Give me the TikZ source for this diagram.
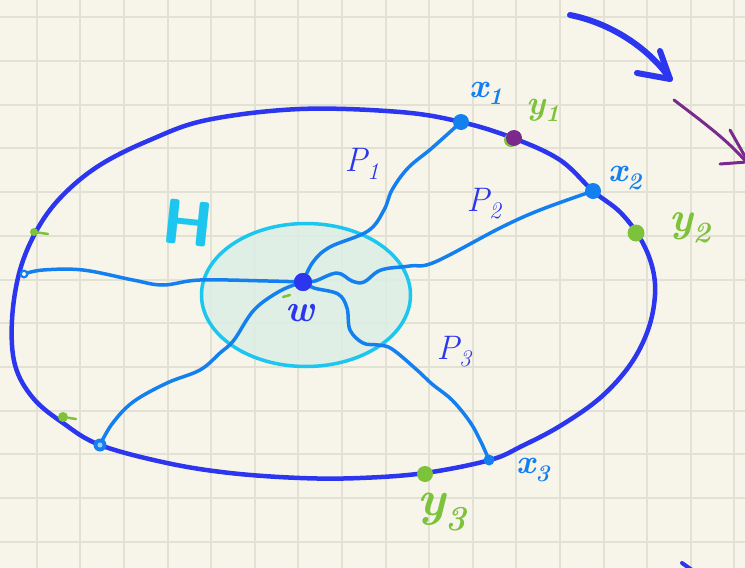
\documentclass[tikz,border=0pt]{standalone}
\usetikzlibrary{calc,shapes.geometric}
\definecolor{paper}{HTML}{F7F5EA}
\definecolor{gridc}{HTML}{E2E1D4}
\definecolor{dblue}{HTML}{2B36EE}
\definecolor{lblue}{HTML}{1480F0}
\definecolor{cyanh}{HTML}{1CC6EE}
\definecolor{hfill}{HTML}{DCEEE5}
\definecolor{greenc}{HTML}{7CC23A}
\definecolor{purp}{HTML}{7A2A8C}
\newcommand\mylab[2]{#1\textsubscript{#2}}
\tikzset{
  outer/.style={draw=dblue,line width=4.5pt,line cap=round,line join=round},
  pathline/.style={draw=lblue,line width=3.5pt,line cap=round,line join=round},
  bdot/.style={circle,fill=lblue,inner sep=0pt,minimum size=#1},
  gdot/.style={circle,fill=greenc,inner sep=0pt,minimum size=#1},
  xlab/.style={text=lblue,font=\fontsize{34}{36}\selectfont\bfseries\itshape},
  ylab/.style={text=greenc,font=\fontsize{#1}{#1}\selectfont\bfseries\itshape},
  plab/.style={text=dblue,font=\fontsize{34}{36}\selectfont\itshape},
}
\begin{document}
\begin{tikzpicture}[x=1pt,y=-1pt]
\fill[paper] (0,0) rectangle (745,568);
\useasboundingbox (0,0) rectangle (745,568);
\foreach \k in {0,...,16} \draw[gridc,line width=2pt] ({36.7+43.6*\k},0) -- ({36.7+43.6*\k},568);
\foreach \k in {0,...,12} \draw[gridc,line width=2pt] (0,{17.3+43.7*\k}) -- (745,{17.3+43.7*\k});

% H region
\node[ellipse,draw=cyanh,fill=hfill,fill opacity=0.85,draw opacity=1,line width=3.5pt,inner sep=0pt,minimum width=209pt,minimum height=143pt] (Hreg) at (306,295) {};
\node[text=cyanh,font=\sffamily\bfseries\fontsize{64}{64}\selectfont,rotate=-6] (H) at (188,223) {H};

% outer curve
\draw[outer] plot[smooth cycle,tension=0.6] coordinates {
(12,320) (20,270) (38,228) (63,195) (100,165) (150,140) (207,120) (300,109) (400,112)
(461,122) (513,138) (560,160) (593,191) (620,212) (640,238) (652,266) (655,295) (648,330)
(630,365) (600,398) (560,426) (522,446) (490,460) (425,473) (360,478) (300,478) (230,473)
(167,463) (100,445) (63,423) (33,398) (15,365)};

% nodes on boundary
\node[bdot=16pt] (x1) at (461,122) {};
\node[bdot=16pt] (x2) at (593,191) {};
\node[bdot=11pt] (x3) at (489,460) {};
\node[bdot=13pt] (v4) at (100,445) {};
\node[bdot=9pt] (v5) at (24,274) {};
\node[gdot=14pt] (y1g) at (511,140) {};
\node[circle,fill=purp,inner sep=0pt,minimum size=16pt] (y1) at (514,138) {};
\node[gdot=17pt] (y2) at (636,233) {};
\node[gdot=16pt] (y3) at (425,474) {};
\node[gdot=8pt] (g1) at (34,232) {};
\node[gdot=10pt] (g2) at (63,417) {};
\draw[greenc,line width=2.5pt,line cap=round] (g1) -- (48,234);
\draw[greenc,line width=2.5pt,line cap=round] (g2) -- (76,419);

% w
\node[circle,fill=dblue,inner sep=0pt,minimum size=18pt] (w) at (303,282) {};

% paths
\draw[pathline] plot[smooth,tension=0.6] coordinates {(w.center) (313,262) (330,247) (368,231) (384,210) (392,190) (408,168) (432,148) (x1.center)};
\draw[pathline] plot[smooth,tension=0.6] coordinates {(w.center) (315,281) (337,273) (352,281) (364,282) (381,270) (410,266) (435,262) (500,228) (540,210) (x2.center)};
\draw[pathline] plot[smooth,tension=0.6] coordinates {(w.center) (314,288) (338,294) (347,308) (350,330) (363,343) (378,345) (392,349) (417,370) (432,384) (452,400) (470,422) (481,442) (x3.center)};
\draw[pathline] plot[smooth,tension=0.6] coordinates {(w.center) (280,291) (254,310) (234,340) (220,353) (200,370) (167,383) (133,402) (112,424) (v4.center)};
\draw[pathline] plot[smooth,tension=0.6] coordinates {(w.center) (268,281) (200,280) (163,285) (133,280) (83,270) (43,270) (v5.center)};
\node[circle,fill=lblue!40,inner sep=0pt,minimum size=5pt] at (v4) {};
\node[circle,fill=paper,inner sep=0pt,minimum size=4pt] at (v5) {};
\node[circle,fill=dblue,inner sep=0pt,minimum size=18pt] at (w) {};
\draw[greenc,line width=2.5pt,line cap=round] (283,297) -- (290,295);

% labels
\node[text=dblue,font=\fontsize{38}{38}\selectfont\bfseries\itshape] (wl) at (300,313) {w};
\node[xlab] (x1l) at (486,93) {\mylab{x}{1}};
\node[ylab=34] (y1l) at (543,110) {\mylab{y}{1}};
\node[xlab] (x2l) at (625,178) {\mylab{x}{2}};
\node[ylab=42] (y2l) at (690,228) {\mylab{y}{2}};
\node[xlab] (x3l) at (533,470) {\mylab{x}{3}};
\node[ylab=50] (y3l) at (442,512) {\mylab{y}{3}};
\node[plab] (p1) at (362,164) {\mylab{P}{1}};
\node[plab] (p2) at (484,204) {\mylab{P}{2}};
\node[plab] (p3) at (454,352) {\mylab{P}{3}};

% arrows top right
\coordinate (a1s) at (570,15);
\coordinate (a1e) at (670,79);
\draw[dblue,line width=6pt,line cap=round,line join=round] (a1s) .. controls (615,24) and (652,52) .. (a1e);
\draw[dblue,line width=6pt,line cap=round,line join=round] (637,73) -- (a1e) -- (660,51);
\coordinate (a2s) at (674,100);
\coordinate (a2e) at (748,164);
\draw[purp,line width=3pt,line cap=round] (a2s) .. controls (700,120) and (728,140) .. (a2e);
\draw[purp,line width=3pt,line cap=round] (730,130) -- (747,160);
\draw[purp,line width=3pt,line cap=round] (720,164) -- (747,162);
% bottom right mark
\coordinate (m1) at (682,563);
\coordinate (m2) at (692,570);
\draw[dblue,line width=4pt,line cap=round] (m1) -- (m2);
\end{tikzpicture}
\end{document}
